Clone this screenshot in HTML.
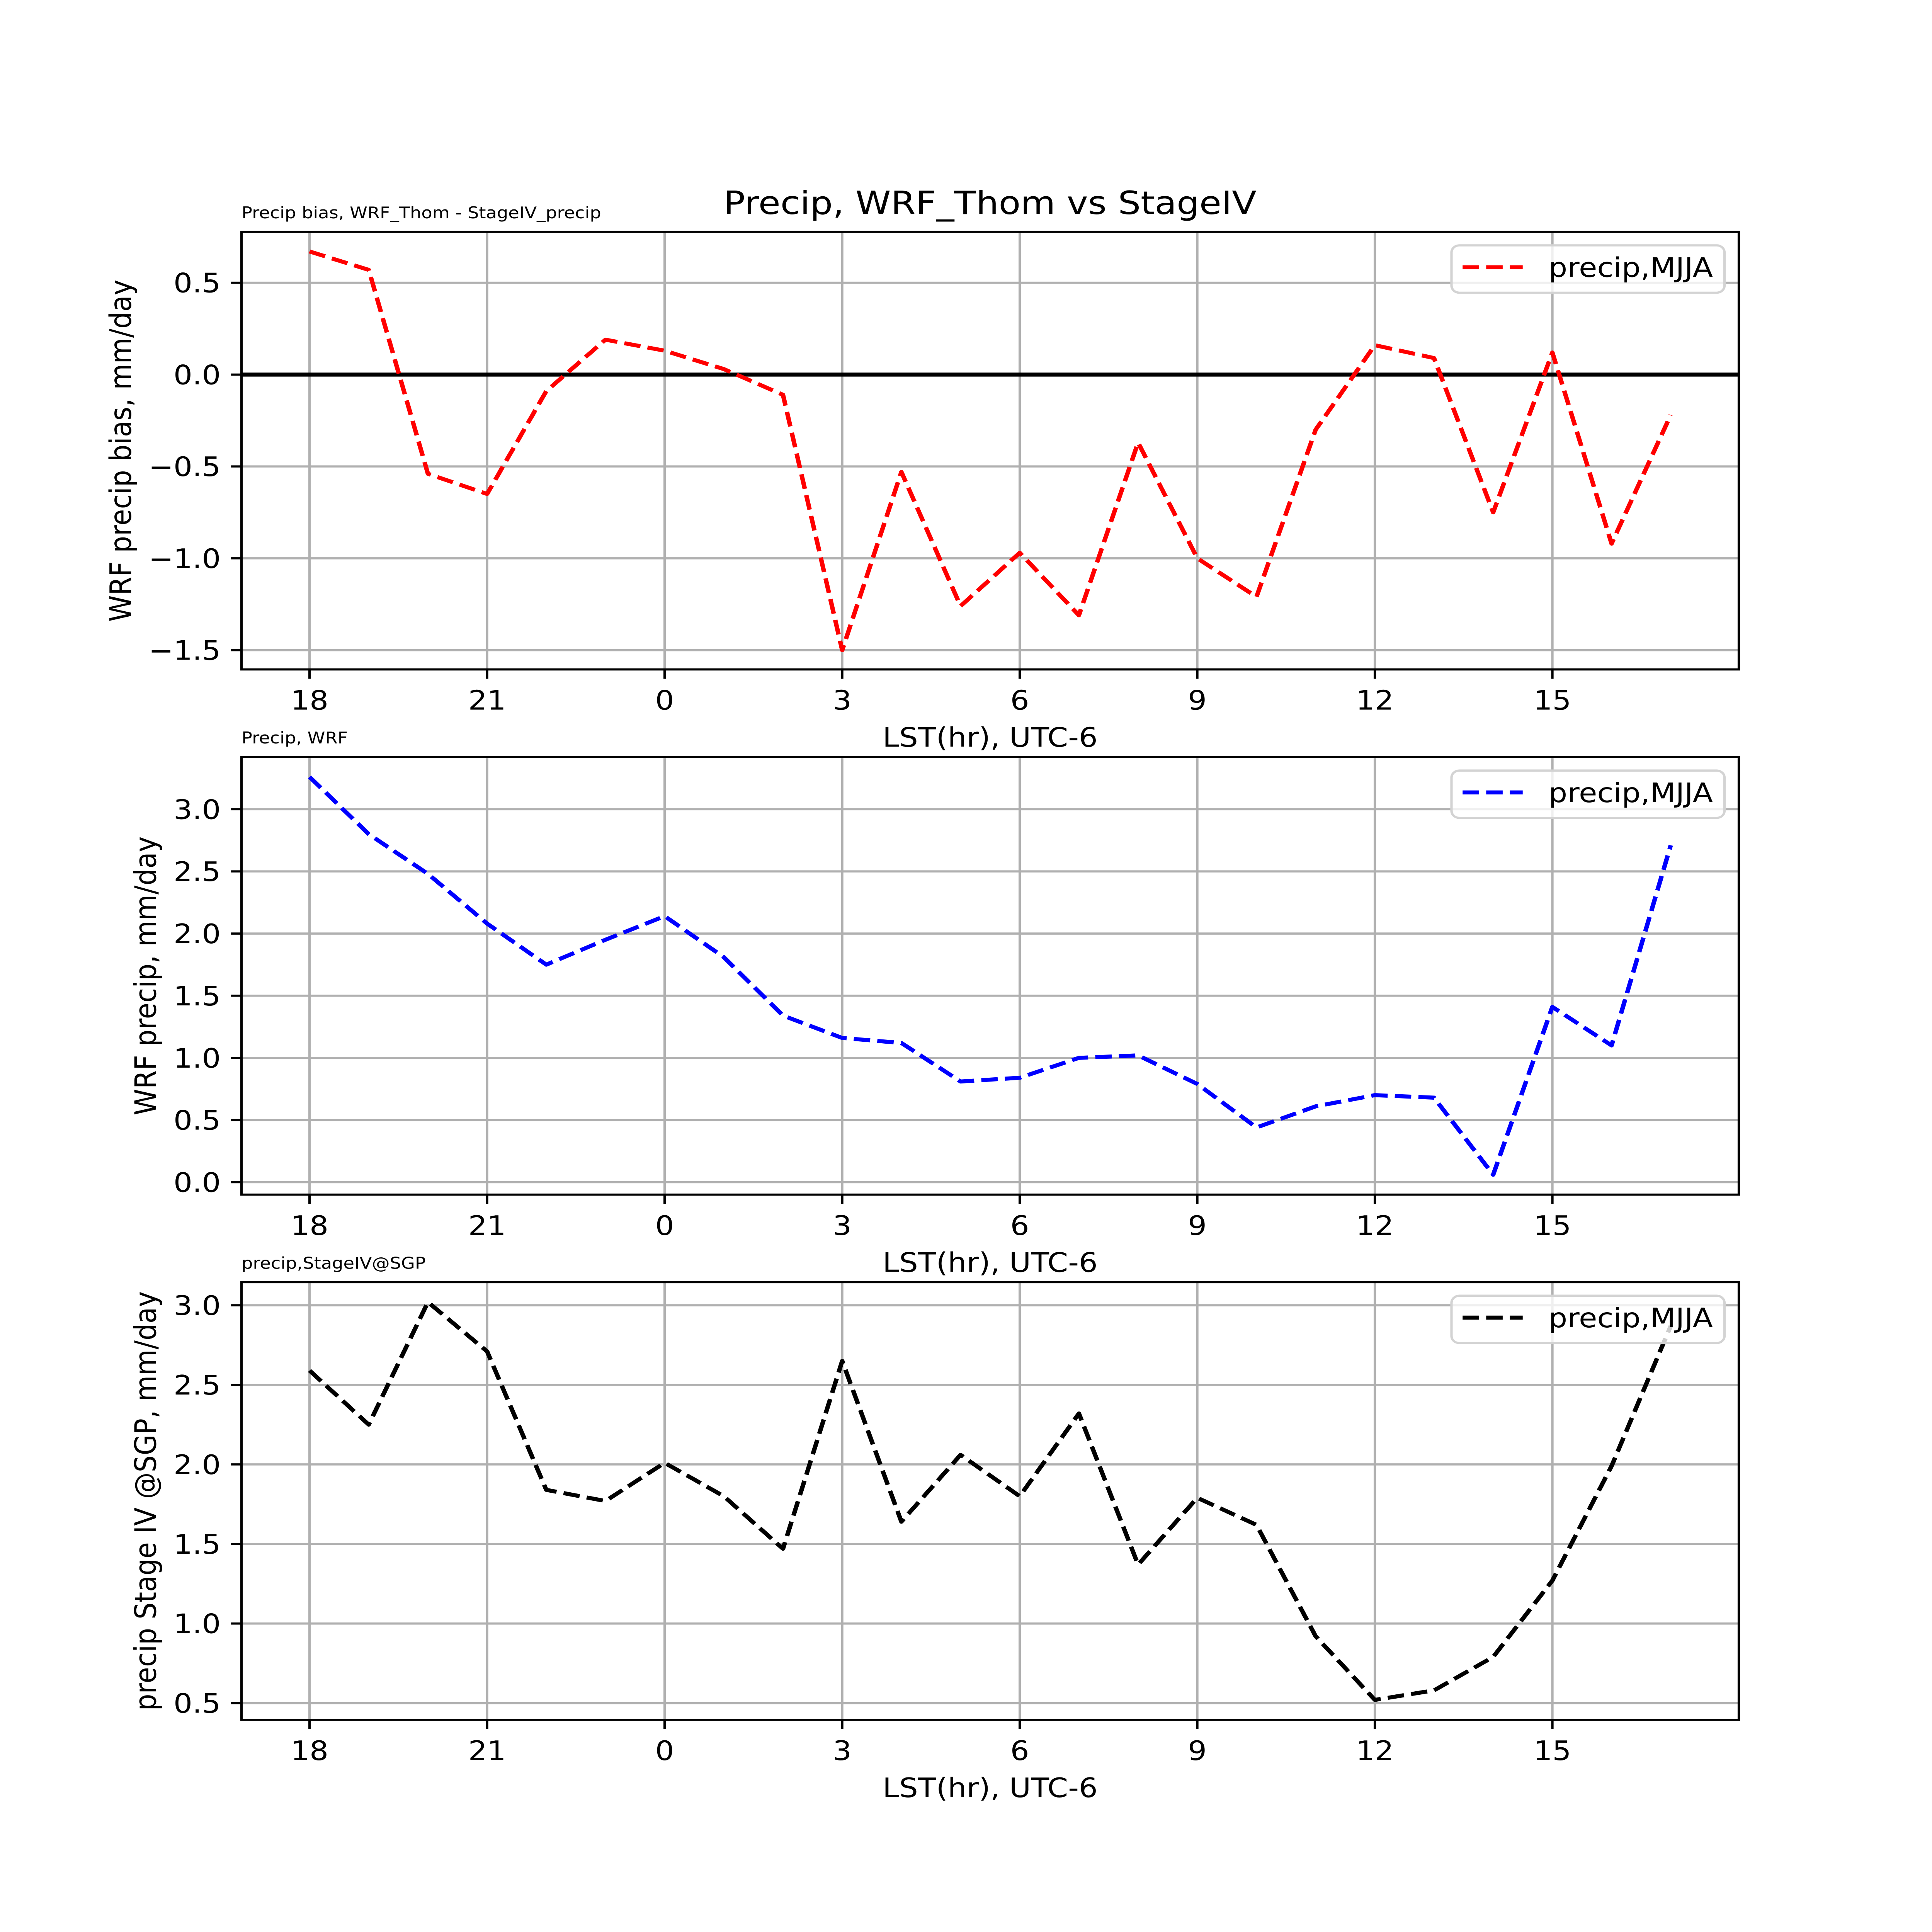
<!DOCTYPE html>
<html><head><meta charset="utf-8"><style>
html,body{margin:0;padding:0;background:#fff;overflow:hidden;width:100vw;height:100vh;}
svg{display:block;width:100vw;height:100vh;font-family:"DejaVu Sans","Liberation Sans",sans-serif;}
</style></head><body>
<svg id="fig" viewBox="0 0 5400 6000" preserveAspectRatio="none" xmlns="http://www.w3.org/2000/svg">
<rect width="5400" height="6000" fill="#fff"/>
<text x="2767" y="665" font-size="100" text-anchor="middle">Precip, WRF_Thom vs StageIV</text>
</svg>
<script>
const hours = ["18","19","20","21","22","23","0","1","2","3","4","5","6","7","8","9","10","11","12","13","14","15","16","17"];
const xTickIdx = [0,3,6,9,12,15,18,21];
const xTickLabels = ["18","21","0","3","6","9","12","15"];
const biasValues = [0.67,0.57,-0.54,-0.65,-0.09,0.19,0.13,0.03,-0.11,-1.5,-0.53,-1.26,-0.97,-1.31,-0.37,-1.0,-1.21,-0.30,0.16,0.09,-0.75,0.12,-0.92,-0.22];
const wrfValues = [3.26,2.80,2.48,2.08,1.75,1.95,2.14,1.81,1.34,1.16,1.12,0.81,0.84,1.00,1.02,0.79,0.44,0.61,0.70,0.68,0.06,1.41,1.10,2.71];
const stageValues = [2.59,2.25,3.02,2.71,1.84,1.77,2.01,1.80,1.47,2.65,1.64,2.06,1.80,2.32,1.37,1.79,1.62,0.92,0.52,0.58,0.79,1.27,1.99,2.87];
const biasTicks = [-1.5,-1.0,-0.5,0.0,0.5];
const biasTickLabels = ["\u22121.5","\u22121.0","\u22120.5","0.0","0.5"];
const wrfTicks = [0.0,0.5,1.0,1.5,2.0,2.5,3.0];
const wrfTickLabels = ["0.0","0.5","1.0","1.5","2.0","2.5","3.0"];
const stageTicks = [0.5,1.0,1.5,2.0,2.5,3.0];
const stageTickLabels = ["0.5","1.0","1.5","2.0","2.5","3.0"];

const NS="http://www.w3.org/2000/svg";
const svg=document.getElementById('fig');
function mk(tag,attrs,parent){const e=document.createElementNS(NS,tag);for(const k in attrs)e.setAttribute(k,attrs[k]);(parent||svg).appendChild(e);return e;}

const L=675,R=4860,H=1359;
function panel(cfg){
  const T=cfg.top,B=T+H;
  const g=mk('g',{});
  
  
  const xmin=-1.15,xmax=24.15;
  const X=v=>L+(v-xmin)/(xmax-xmin)*(R-L);
  const Y=v=>B-(v-cfg.ymin)/(cfg.ymax-cfg.ymin)*H;
  xTickIdx.forEach((xi,i)=>{
    const gl=mk('line',{x1:X(xi),x2:X(xi),y1:T,y2:B,stroke:'#b0b0b0','stroke-width':6.7},g);
    
    
    mk('line',{x1:X(xi),x2:X(xi),y1:B,y2:B+29,stroke:'#000','stroke-width':6.7},g);
    const t=mk('text',{x:X(xi),y:B+125,'font-size':83,'text-anchor':'middle'},g);
    t.textContent=xTickLabels[i];
    
    
  });
  cfg.ticks.forEach((v,i)=>{
    const gl=mk('line',{x1:L,x2:R,y1:Y(v),y2:Y(v),stroke:'#b0b0b0','stroke-width':6.7},g);
    
    
    mk('line',{x1:L-29,x2:L,y1:Y(v),y2:Y(v),stroke:'#000','stroke-width':6.7},g);
    const t=mk('text',{x:L-58,y:Y(v)+30,'font-size':83,'text-anchor':'end'},g);
    t.textContent=cfg.tickLabels[i];
    
    
  });
  if(cfg.zero){
    const z=mk('line',{x1:L,x2:R,y1:Y(0),y2:Y(0),stroke:'#000','stroke-width':12.5},g);
    
    
  }
  const pts=cfg.values.map((v,i)=>X(i).toFixed(1)+','+Y(v).toFixed(1)).join(' ');
  const pl=mk('polyline',{points:pts,fill:'none',stroke:cfg.color,'stroke-width':12.5,'stroke-dasharray':'46 20','stroke-linejoin':'round'},g);
  
  
  const fr=mk('rect',{x:L,y:T,width:R-L,height:H,fill:'none',stroke:'#000','stroke-width':6.7},g);
  
  
  const lg=mk('g',{},g);
  
  
  mk('rect',{x:4057,y:T+42,width:763,height:147,rx:22,fill:'rgba(255,255,255,0.8)',stroke:'#d3d3d3','stroke-width':6.7},lg);
  mk('line',{x1:4088,x2:4256,y1:T+110,y2:T+110,stroke:cfg.color,'stroke-width':12.5,'stroke-dasharray':'46 20'},lg);
  const lt=mk('text',{x:4328,y:T+140,'font-size':83},lg);
  lt.textContent='precip,MJJA';
  
  
  const st=mk('text',{x:L,y:T-42,'font-size':50},g);
  st.textContent=cfg.title;
  
  
  const xl=mk('text',{x:(L+R)/2,y:B+240,'font-size':83,'text-anchor':'middle'},g);
  xl.textContent='LST(hr), UTC-6';
  
  
  const cy=T+H/2;
  const yl=mk('text',{x:0,y:0,'font-size':83,'text-anchor':'middle',transform:'translate('+cfg.ylx+','+cy+') rotate(-90)'},g);
  yl.textContent=cfg.ylabel;
  
  
}
panel({name:'bias-panel',top:720,ymin:-1.605,ymax:0.777,ticks:biasTicks,tickLabels:biasTickLabels,values:biasValues,color:'#ff0000',zero:true,title:'Precip bias, WRF_Thom - StageIV_precip',ylabel:'WRF precip bias, mm/day',ylx:366});
panel({name:'wrf-panel',top:2351,ymin:-0.10,ymax:3.42,ticks:wrfTicks,tickLabels:wrfTickLabels,values:wrfValues,color:'#0000ff',zero:false,title:'Precip, WRF',ylabel:'WRF precip, mm/day',ylx:436});
panel({name:'stageiv-panel',top:3982,ymin:0.395,ymax:3.145,ticks:stageTicks,tickLabels:stageTickLabels,values:stageValues,color:'#000000',zero:false,title:'precip,StageIV@SGP',ylabel:'precip Stage IV @SGP, mm/day',ylx:436});
</script>
</body></html>
